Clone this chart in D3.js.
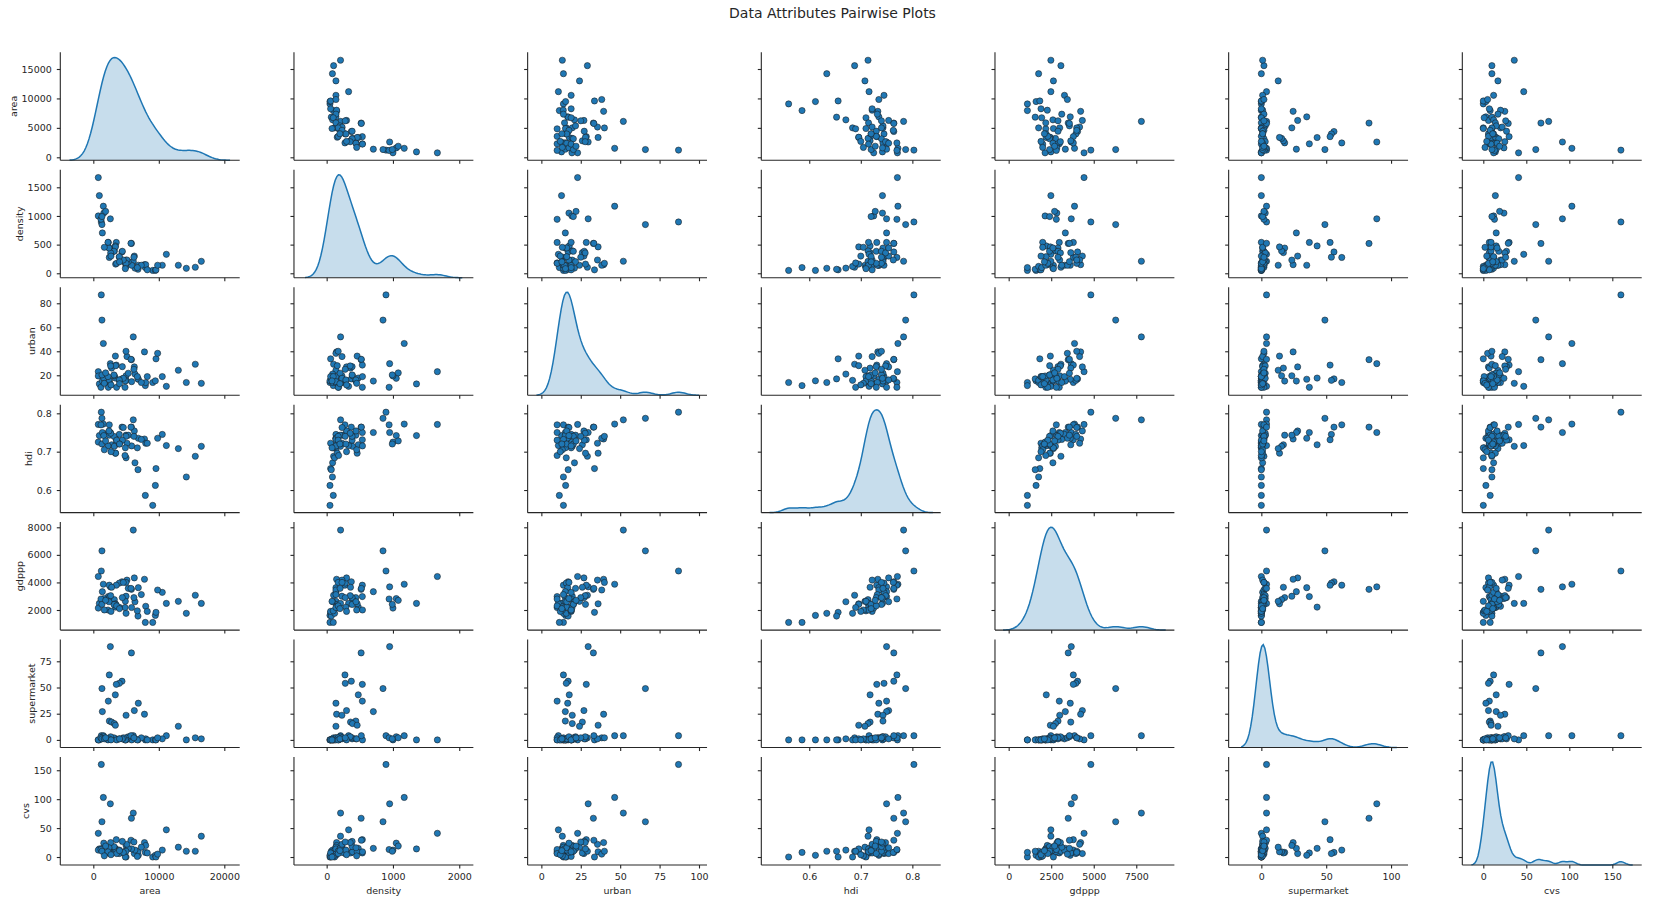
<!DOCTYPE html>
<html>
<head>
<meta charset="utf-8">
<script src="https://cdn.jsdelivr.net/npm/d3@7"></script>
<style>
body { margin: 0; background: #fff; }
text { font-family: "DejaVu Sans", sans-serif; fill: #262626; }
</style>
</head>
<body>
<div id="chart"></div>
<script>
const width = 1677
const height = 903

const vars = ["area", "density", "urban", "hdi", "gdppp", "supermarket", "cvs"]

// one value per city, same order in every array
const area = [1220, 1320, 6100, 1530, 760, 920, 2600, 5820, 2440, 4380, 3970, 3510, 3360, 2290, 6870, 6260, 1380, 7810, 5000, 2450, 2800, 3210, 3370, 12980, 9070, 7940, 9470, 14200, 9570, 6820, 6360, 15570, 5000, 3410, 4840, 16490, 11150, 10530, 9820, 8000, 8240, 7330, 6720, 5850, 5340, 5140, 4990, 4890, 4580, 4430, 3970, 3150, 2650, 2390, 1600, 760, 1170, 1320, 2240, 1680, 3560, 5750, 2700, 4000, 6200, 1880]
const density = [895, 850, 210, 1170, 1670, 1355, 950, 520, 276, 372, 281, 538, 477, 538, 140, 300, 704, 150, 230, 440, 360, 390, 460, 140, 50, 100, 50, 87, 60, 70, 90, 105, 120, 160, 180, 209, 331, 140, 140, 150, 60, 140, 99, 140, 203, 232, 174, 81, 232, 384, 290, 384, 355, 442, 1050, 1000, 942, 990, 540, 453, 174, 523, 300, 200, 280, 1080]
const urban = [87, 66, 52, 46.5, 23, 12.8, 29.7, 33, 14, 17, 15.8, 28.5, 17.7, 10, 16.7, 27, 15.2, 39.5, 19.6, 15.2, 26, 19.6, 36, 24.2, 14, 11.4, 15.4, 14, 33.7, 17, 21, 29.2, 15.8, 28, 10, 13.3, 10.8, 18.9, 38.3, 13.9, 18.9, 14, 18.9, 14.7, 21.7, 35.6, 40, 15.3, 17.5, 27.2, 16.1, 20.3, 27.8, 16.1, 17.5, 19.4, 10, 20.3, 18.9, 13.3, 10, 33.3, 12, 13, 25, 22]
const hdi = [0.803, 0.787, 0.783, 0.772, 0.771, 0.742, 0.750, 0.764, 0.770, 0.764, 0.745, 0.731, 0.718, 0.750, 0.735, 0.754, 0.750, 0.733, 0.743, 0.743, 0.718, 0.714, 0.696, 0.708, 0.560, 0.586, 0.612, 0.634, 0.656, 0.653, 0.671, 0.688, 0.684, 0.696, 0.690, 0.714, 0.716, 0.745, 0.735, 0.722, 0.722, 0.732, 0.710, 0.715, 0.743, 0.722, 0.740, 0.710, 0.763, 0.730, 0.720, 0.740, 0.748, 0.754, 0.742, 0.725, 0.770, 0.720, 0.715, 0.705, 0.730, 0.764, 0.700, 0.720, 0.740, 0.728]
const gdppp = [4830, 6290, 7800, 3870, 4430, 2480, 3680, 3500, 3800, 4050, 3950, 3800, 2210, 2975, 3620, 4330, 3330, 4230, 3000, 2900, 3650, 2750, 2450, 2630, 1100, 1100, 1610, 1760, 1830, 1560, 2600, 3070, 1760, 2410, 2180, 2480, 2480, 3280, 3450, 2270, 1900, 3120, 1940, 2180, 3570, 4170, 4000, 2630, 4000, 2900, 2200, 2400, 3040, 2600, 2830, 2140, 2800, 2410, 2000, 2000, 2300, 3570, 1900, 2100, 2900, 2700]
const supermarket = [4, 49, 4, 4, 0, 0, 89, 83, 62, 56, 54, 53, 43, 37, 35, 28, 27, 24.5, 23.5, 18, 17, 15.6, 14, 13, 0, 0, 0, 0, 0, 0, 1, 2, 0, 1, 0, 1, 4, 1, 2, 1, 0, 2, 0, 0, 3, 1, 2, 0, 2, 1, 1, 2, 3, 1, 3, 0, 2, 1, 0, 1, 0, 4, 0, 1, 2, 2]
const cvs = [160, 61, 76, 103, 41, 14, 92, 67, 12, 8, 6, 30, 15, 7, 3, 6, 15, 25, 20, 8, 7, 9, 9, 17, 0, 8, 3, 10, 0, 10, 12, 10, 0, 14, 10, 36, 47, 12, 5, 20, 7, 17, 1, 14, 15, 22, 10, 0, 8, 27, 12, 18, 25, 16, 24, 12, 13, 10, 9, 2, 6, 29, 4, 11, 26, 19]

// axis limits and ticks, in data units, one entry per variable
const xLimits = [[-5040, 22350], [-493, 2213], [-8.7, 105.1], [0.507, 0.855], [-805, 9740], [-25.2, 113.1], [-24.4, 184.2]]
const yLimits = [[-510, 17837], [-78, 1806], [3.4, 93.4], [0.541, 0.8226], [542, 8377], [-7.3, 95.75], [-13.8, 172.9]]
const xTicks = [[0, 10000, 20000], [0, 1000, 2000], [0, 25, 50, 75, 100], [0.6, 0.7, 0.8], [0, 2500, 5000, 7500], [0, 50, 100], [0, 50, 100, 150]]
const yTicks = [[0, 5000, 10000, 15000], [0, 500, 1000, 1500], [20, 40, 60, 80], [0.6, 0.7, 0.8], [2000, 4000, 6000, 8000], [0, 25, 50, 75], [0, 50, 100, 150]]

const title = "Data Attributes Pairwise Plots"

const grid = { left: 60.3, top: 52.3, colStep: 233.67, rowStep: 117.45, w: 179.4, h: 108 }
const blue = "#1f77b4"
const ink = "#262626"
const tickLen = 3.5

const columns = [area, density, urban, hdi, gdppp, supermarket, cvs]
const rows = area.map((d, i) => columns.map(c => c[i]))

const svg = d3.select("div#chart").append("svg").attr("width", width).attr("height", height)

svg.append("text")
    .attr("x", 832.5).attr("y", 18.3)
    .attr("text-anchor", "middle")
    .style("font-size", "14px")
    .text(title)

const x = xLimits.map(l => d3.scaleLinear().domain(l).range([0, grid.w]))
const y = yLimits.map(l => d3.scaleLinear().domain(l).range([grid.h, 0]))

function bandwidth(values) {
    const s = values.slice().sort(d3.ascending)
    const iqr = d3.quantileSorted(s, 0.75) - d3.quantileSorted(s, 0.25)
    const a = Math.min(d3.deviation(s), iqr / 1.349)
    return 1.059 * a * Math.pow(s.length, -0.2)
}

function kde(values) {
    const bw = bandwidth(values)
    const lo = d3.min(values) - 3 * bw
    const hi = d3.max(values) + 3 * bw
    const k = 1 / (bw * Math.sqrt(2 * Math.PI) * values.length)
    return d3.range(100).map(i => {
        const t = lo + i * (hi - lo) / 99
        return [t, k * d3.sum(values, v => Math.exp(-0.5 * ((t - v) / bw) ** 2))]
    })
}

vars.forEach((rv, r) => {
    vars.forEach((cv, c) => {
        const g = svg.append("g")
            .attr("class", "panel")
            .attr("transform", `translate(${grid.left + c * grid.colStep},${grid.top + r * grid.rowStep})`)

        if (r === c) {
            const curve = kde(columns[c])
            const yd = d3.scaleLinear().domain([0, d3.max(curve, d => d[1]) * 1.05]).range([grid.h, 0])
            g.append("path")
                .datum(curve)
                .attr("fill", blue).attr("fill-opacity", 0.25)
                .attr("d", d3.area().x(d => x[c](d[0])).y0(yd(0)).y1(d => yd(d[1])))
            g.append("path")
                .datum(curve)
                .attr("fill", "none").attr("stroke", blue).attr("stroke-width", 1.5)
                .attr("d", d3.line().x(d => x[c](d[0])).y(d => yd(d[1])))
        } else {
            g.selectAll("circle").data(rows).enter()
                .append("circle")
                .attr("cx", d => x[c](d[c]))
                .attr("cy", d => y[r](d[r]))
                .attr("r", 3.1)
                .attr("fill", blue)
                .attr("stroke", "#1a1a1a")
                .attr("stroke-width", 0.55)
        }

        const yAxis = d3.axisLeft(y[r]).tickValues(yTicks[r]).tickSize(tickLen).tickPadding(5)
            .tickFormat(c === 0 ? d3.format("") : "")
        const xAxis = d3.axisBottom(x[c]).tickValues(xTicks[c]).tickSize(tickLen).tickPadding(4.5)
            .tickFormat(r === vars.length - 1 ? d3.format("") : "")

        const ya = g.append("g").call(yAxis)
        const xa = g.append("g").attr("transform", `translate(0,${grid.h})`).call(xAxis)
        ;[ya, xa].forEach(a => {
            a.select(".domain").attr("stroke", ink).attr("stroke-width", 1.1)
                .attr("d", a === ya ? `M0,0V${grid.h}` : `M0,0H${grid.w}`)
            a.selectAll(".tick line").attr("stroke", ink).attr("stroke-width", 1.1)
            a.selectAll(".tick text").style("font-size", "9.5px").attr("fill", ink).style("font-family", "DejaVu Sans")
        })

        if (c === 0) {
            let minX = 0
            ya.selectAll(".tick text").each(function () {
                minX = Math.min(minX, -tickLen - 5 - this.getComputedTextLength())
            })
            g.append("text")
                .attr("transform", `translate(${minX - 5},${grid.h / 2}) rotate(-90)`)
                .attr("text-anchor", "middle")
                .style("font-size", "9.5px")
                .text(rv)
        }
        if (r === vars.length - 1) {
            g.append("text")
                .attr("x", grid.w / 2).attr("y", grid.h + 29)
                .attr("text-anchor", "middle")
                .style("font-size", "9.5px")
                .text(cv)
        }
    })
})
</script>
</body>
</html>
